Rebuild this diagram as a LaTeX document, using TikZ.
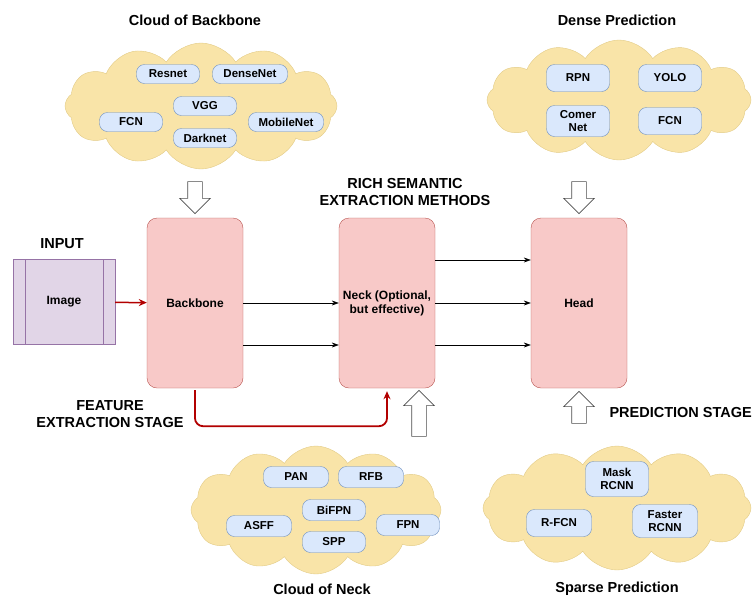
\documentclass[tikz,border=0pt]{standalone}
\usepackage{fontspec}
\setmainfont{Liberation Sans}
\usetikzlibrary{positioning,shapes.symbols,shapes.arrows,arrows.meta}

\definecolor{stagefill}{HTML}{F8C9C8}
\definecolor{stageline}{HTML}{B85450}
\definecolor{imgfill}{HTML}{E1D5E7}
\definecolor{imgline}{HTML}{9673A6}
\definecolor{pillfill}{HTML}{DAE8FC}
\definecolor{pillline}{HTML}{6C8EBF}
\definecolor{cloudfill}{HTML}{F9E4A8}
\definecolor{cloudline}{HTML}{E2CB86}
\definecolor{flowred}{HTML}{B20000}

\tikzset{
  stagebox/.style={draw=stageline, fill=stagefill, rounded corners=10pt,
    minimum width=96pt, minimum height=170pt, align=center,
    font=\bfseries\fontsize{12}{14}\selectfont},
  pill/.style={draw=pillline, fill=pillfill, rounded corners=8pt,
    minimum width=63pt, minimum height=19pt, inner sep=1pt, align=center,
    font=\bfseries\fontsize{11.5}{13}\selectfont},
  cloudbg/.style={cloud, cloud puffs=12, cloud puff arc=115, aspect=2.3,
    draw=cloudline, fill=cloudfill, inner sep=0pt},
  blockarrow/.style={single arrow, draw=black!70, fill=white, line width=0.6pt,
    minimum height=32pt, inner sep=7pt, single arrow head extend=8pt,
    single arrow tip angle=90},
  heading/.style={align=center, font=\bfseries\fontsize{14.5}{17}\selectfont},
  flow/.style={-{Stealth[length=7pt,width=5pt]}, line width=0.6pt},
  redflow/.style={-{Stealth[length=8pt,width=7pt]}, draw=flowred, line width=1.8pt}
}

\begin{document}
\begin{tikzpicture}[x=1pt,y=-1pt]
\useasboundingbox (0,0) rectangle (753,598);

% clouds
\node[cloudbg, minimum width=272pt, minimum height=126pt] (cbb) at (201,106) {};
\node[cloudbg, minimum width=264pt, minimum height=120pt] (cdense) at (619,100) {};
\node[cloudbg, minimum width=250pt, minimum height=128pt] (cneck) at (316,510) {};
\node[cloudbg, minimum width=268pt, minimum height=124pt] (csparse) at (617,508) {};

% cloud titles
\node[heading] (tbb) at (195,20) {Cloud of Backbone};
\node[heading] (tdense) at (617,20) {Dense Prediction};
\node[heading] (tneck) at (322,589) {Cloud of Neck};
\node[heading] (tsparse) at (617,589) {Sparse Prediction};

% backbone choices
\node[pill] (resnet) at (168,74) {Resnet};
\node[pill, minimum width=75pt] (densenet) at (250,74) {DenseNet};
\node[pill] (vgg) at (205,106) {VGG};
\node[pill] (fcnbb) at (131,122) {FCN};
\node[pill] (darknet) at (205,138) {Darknet};
\node[pill, minimum width=75pt] (mobilenet) at (286,122) {MobileNet};

% dense heads
\node[pill, minimum height=27pt] (rpn) at (578,78) {RPN};
\node[pill, minimum height=27pt] (yolo) at (670,78) {YOLO};
\node[pill, minimum height=31pt] (comer) at (578,121) {Comer\\Net};
\node[pill, minimum height=27pt] (fcnhead) at (670,121) {FCN};

% neck choices
\node[pill, minimum width=65pt, minimum height=21pt] (pan) at (296,477) {PAN};
\node[pill, minimum width=65pt, minimum height=21pt] (rfb) at (371,477) {RFB};
\node[pill, minimum width=63pt, minimum height=21pt] (bifpn) at (334,510) {BiFPN};
\node[pill, minimum width=65pt, minimum height=21pt] (asff) at (259,526) {ASFF};
\node[pill, minimum width=63pt, minimum height=21pt] (spp) at (334,542) {SPP};
\node[pill, minimum width=63pt, minimum height=21pt] (fpn) at (408,525) {FPN};

% sparse heads
\node[pill, minimum height=35pt] (mask) at (617,479) {Mask\\RCNN};
\node[pill, minimum width=65pt, minimum height=27pt] (rfcn) at (559,523) {R-FCN};
\node[pill, minimum width=65pt, minimum height=33pt] (faster) at (665,521) {Faster\\RCNN};

% main pipeline
\node[draw=imgline, fill=imgfill, minimum width=102pt, minimum height=85pt,
  font=\bfseries\fontsize{12}{14}\selectfont] (img) at (64,302) {Image};
\draw[imgline] ([xshift=12pt]img.north west) -- ([xshift=12pt]img.south west);
\draw[imgline] ([xshift=-12pt]img.north east) -- ([xshift=-12pt]img.south east);
\node[stagebox] (bb) at (195,303) {Backbone};
\node[stagebox] (neck) at (387,303) {Neck (Optional,\\but effective)};
\node[stagebox] (head) at (579,303) {Head};

% stage labels
\node[heading] (tinput) at (62,244) {INPUT};
\node[heading] (trich) at (405,192) {RICH SEMANTIC\\EXTRACTION METHODS};
\node[heading] (tfeat) at (110,414) {FEATURE\\EXTRACTION STAGE};
\node[heading, anchor=west] (tpred) at (606,413) {PREDICTION STAGE};

% block arrows
\node[blockarrow, shape border rotate=270] (abb) at (195,194) {};
\node[blockarrow, shape border rotate=270] (adense) at (579,194) {};
\node[blockarrow, shape border rotate=90, minimum height=46pt] (aneck) at (419,417) {};
\node[blockarrow, shape border rotate=90] (asparse) at (579,411) {};

% connectors
\draw[redflow, line width=1.5pt] (img) -- (bb);
\draw[flow] (bb) -- (neck);
\draw[flow] ([yshift=-42pt]bb.east) -- ([yshift=-42pt]neck.west);
\draw[flow] ([yshift=43pt]neck.east) -- ([yshift=43pt]head.west);
\draw[flow] (neck) -- (head);
\draw[flow] ([yshift=-42pt]neck.east) -- ([yshift=-42pt]head.west);
\draw[redflow, rounded corners=8pt] ([yshift=-2pt]bb.south) -- ++(0,36) -| ([yshift=-3pt]neck.south);

\end{tikzpicture}
\end{document}
